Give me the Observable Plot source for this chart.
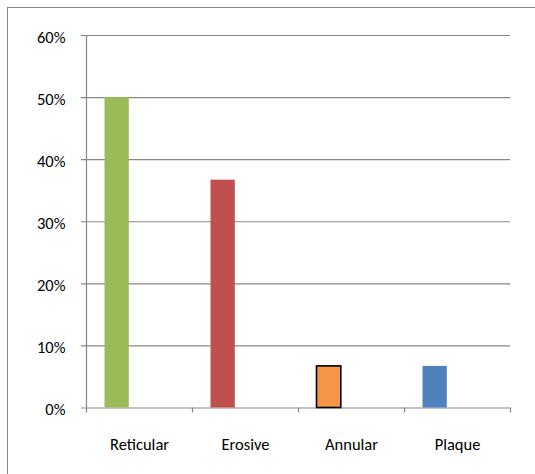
<!DOCTYPE html>
<html>
<head>
<meta charset="utf-8">
<script src="https://cdn.jsdelivr.net/npm/d3@7"></script>
<script src="https://cdn.jsdelivr.net/npm/@observablehq/plot@0.6"></script>
<style>
  html, body { margin: 0; padding: 0; background: #fff; }
  #wrap { position: relative; width: 535px; height: 474px; overflow: hidden; }
  #frame { position: absolute; left: 7px; top: 7px; width: 560px; height: 520px;
           border-left: 1px solid #888; border-top: 1px solid #888; box-sizing: border-box; pointer-events: none; }
  #chart { position: absolute; left: 0; top: 0; }
</style>
</head>
<body>
<div id="wrap"><div id="chart"></div><div id="frame"></div></div>
<script>
const categories = ["Reticular", "Erosive", "Annular", "Plaque"];
const values = [0.50, 0.367, 0.067, 0.067];
const colors = ["#9BBB59", "#C0504D", "#F79646", "#4F81BD"];
const outlines = ["none", "none", "#000", "none"];
const yTicks = [0, 0.1, 0.2, 0.3, 0.4, 0.5, 0.6];

const data = categories.map((c, i) => ({cat: c, value: values[i], color: colors[i], outline: outlines[i]}));

const W = 535, H = 474;
const mL = 86, mR = 25, mT = 35, mB = 66.5;
const bw = (W - mL - mR) / categories.length;
const barOffset = 18.5, barWidth = 24.3;
const grid = "#878787";
const font = "Carlito, Lato, 'Open Sans', sans-serif";
const fs = 16.5;

const chart = Plot.plot({
  width: W, height: H,
  marginLeft: mL, marginRight: mR, marginTop: mT, marginBottom: mB,
  style: {fontFamily: font, fontSize: fs + "px", color: "#000", background: "transparent"},
  x: {type: "band", domain: categories, padding: 0, round: false},
  y: {domain: [0, 0.6]},
  marks: [
    Plot.ruleY(yTicks, {stroke: grid, strokeWidth: 1.2, insetLeft: -5}),
    Plot.barY(data, {x: "cat", y: "value", fill: "color", stroke: "outline", strokeWidth: 1.6,
      insetLeft: barOffset, insetRight: bw - barOffset - barWidth}),
    Plot.ruleX([categories[0]], {y1: 0, y2: 0.6, dx: -bw / 2, stroke: grid, strokeWidth: 1.2}),
    Plot.ruleX(categories, {y1: 0, y2: 0, insetBottom: -5, dx: -bw / 2, stroke: grid, strokeWidth: 1.2}),
    Plot.ruleX([categories[categories.length - 1]], {y1: 0, y2: 0, insetBottom: -5, dx: bw / 2, stroke: grid, strokeWidth: 1.2}),
    Plot.axisY({ticks: yTicks, tickFormat: d3.format(".0%"), tickSize: 0, tickPadding: 21, dy: 2, label: null, fill: "#000", fontSize: fs, fontFamily: font, fontWeight: 400}),
    Plot.axisX({tickSize: 0, tickPadding: 30, label: null, fill: "#000", fontSize: fs, fontFamily: font, fontWeight: 400})
  ]
});
document.getElementById("chart").appendChild(chart);
</script>
</body>
</html>
